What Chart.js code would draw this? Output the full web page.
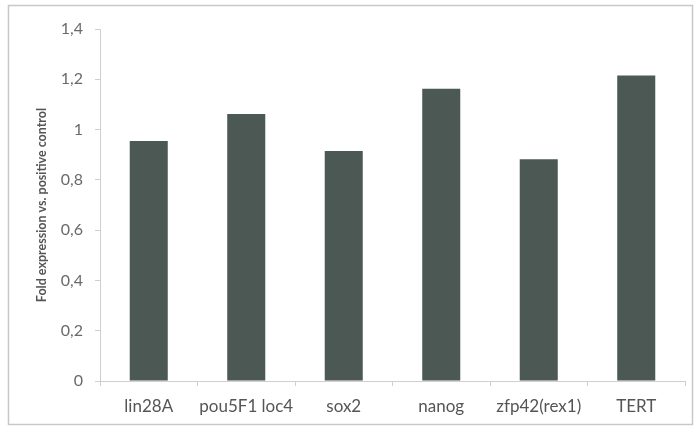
<!DOCTYPE html>
<html>
<head>
<meta charset="utf-8">
<script src="https://cdn.jsdelivr.net/npm/chart.js@4/dist/chart.umd.min.js"></script>
<style>
  body { margin: 0; background: #fff; }
  #wrap { width: 694px; height: 426px; position: relative; }
</style>
</head>
<body>
<div id="wrap"><canvas id="myChart" width="694" height="426"></canvas></div>
<script>
// values
var genes = ["lin28A", "pou5F1 loc4", "sox2", "nanog", "zfp42(rex1)", "TERT"];
var foldExpression = [0.955, 1.062, 0.915, 1.162, 0.882, 1.215];
var yTicks = [0, 0.2, 0.4, 0.6, 0.8, 1, 1.2, 1.4];

// light frame around the whole chart, like the excel chart border
var framePlugin = {
    id: 'frame',
    beforeDraw: function(chart){
        var ctx = chart.ctx;
        ctx.save();
        ctx.fillStyle = '#ffffff';
        ctx.fillRect(0, 0, chart.width, chart.height);
        ctx.strokeStyle = '#c8c8c8';
        ctx.lineWidth = 1.5;
        ctx.strokeRect(8.5, 5.5, 684, 419);
        ctx.restore();
    }
};

var ctx = document.getElementById("myChart");
var myChart = new Chart(ctx, {
    type: 'bar',
    data: {
        labels: genes,
        datasets: [{
            data: foldExpression,
            backgroundColor: '#4b5853',
            barPercentage: 0.78,
            categoryPercentage: 0.5
        }]
    },
    plugins: [framePlugin],
    options: {
        responsive: false,
        animation: false,
        layout: { padding: { left: 30, right: 9, top: 29, bottom: 0 } },
        plugins: { legend: { display: false }, tooltip: { enabled: false } },
        scales: {
            x: {
                grid: { drawOnChartArea: false, tickLength: 5, color: '#cfcfcf' },
                border: { color: '#cfcfcf' },
                ticks: { color: '#555', font: { family: 'Lato', size: 17 }, padding: 10, maxRotation: 0 },
                afterFit: function(s){ s.height = 45; }
            },
            y: {
                min: 0,
                max: 1.4,
                afterBuildTicks: function(s){ s.ticks = yTicks.map(function(v){ return { value: v }; }); },
                grid: { drawOnChartArea: false, tickLength: 5, color: '#cfcfcf' },
                border: { color: '#cfcfcf' },
                ticks: {
                    color: '#6a6a6a',
                    font: { family: 'Lato', size: 16 },
                    padding: 12,
                    callback: function(v){ return String(Math.round(v * 10) / 10).replace('.', ','); }
                },
                title: {
                    display: true,
                    text: 'Fold expression vs. positive control',
                    color: '#555',
                    font: { family: 'Lato', size: 12.5, weight: 'bold' },
                    padding: { top: 4, bottom: 0 }
                },
                afterFit: function(s){ s.width = 70; }
            }
        }
    }
});
</script>
</body>
</html>
